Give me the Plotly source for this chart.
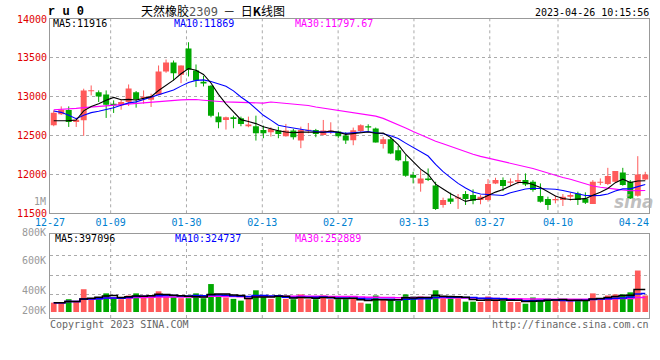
import numpy as np
import pandas as pd
import plotly.graph_objects as go
from plotly.subplots import make_subplots

# ---------------- data ----------------
tick_labels = ["12-27", "01-09", "01-30", "02-13", "02-27", "03-13", "03-27", "04-10", "04-24"]
tick_index = [0, 8, 18, 28, 38, 48, 58, 67, 77]

open_price = [12633, 12774, 12829, 12675, 12697, 13073, 13056, 13030, 12910, 12889,
              12932, 13056, 12987, 12962, 13026, 13325, 13440, 13282, 13620, 13338,
              13192, 13141, 12744, 12701, 12735, 12722, 12620, 12620, 12573, 12543,
              12564, 12491, 12564, 12436, 12564, 12573, 12509, 12551, 12551, 12500,
              12440, 12560, 12620, 12590, 12393, 12453, 12312, 12171, 11992, 11885,
              11949, 11859, 11607, 11692, 11692, 11748, 11735, 11671, 11671, 11885,
              11927, 11897, 11906, 11927, 11906, 11722, 11684, 11667, 11671, 11714,
              11756, 11692, 11620, 11893, 11876, 11906, 12026, 11906, 11727, 11936]
high_price = [12825, 12876, 12876, 12731, 13103, 13145, 13081, 13081, 12953, 12962,
              13158, 13073, 13081, 13039, 13402, 13479, 13466, 13402, 13701, 13415,
              13269, 13150, 12799, 12744, 12756, 12744, 12744, 12756, 12628, 12607,
              12615, 12650, 12586, 12615, 12662, 12586, 12701, 12671, 12564, 12543,
              12603, 12645, 12645, 12603, 12483, 12483, 12368, 12248, 12034, 12056,
              12077, 11906, 11701, 11765, 11748, 11786, 11808, 11735, 11940, 11957,
              11962, 11949, 12013, 12013, 11927, 11885, 11714, 11727, 11748, 11765,
              11778, 11769, 11927, 11949, 12085, 12043, 12085, 11927, 12235, 12034]
low_price = [12620, 12765, 12611, 12611, 12496, 13017, 12932, 12727, 12791, 12833,
             12880, 12859, 12910, 12868, 13026, 13308, 13209, 13175, 13261, 13124,
             13132, 12735, 12594, 12577, 12594, 12620, 12607, 12436, 12466, 12487,
             12466, 12487, 12449, 12338, 12530, 12479, 12500, 12521, 12470, 12393,
             12376, 12547, 12560, 12410, 12333, 12261, 12171, 11970, 11885, 11778,
             11915, 11543, 11573, 11620, 11556, 11607, 11616, 11616, 11650, 11876,
             11786, 11850, 11872, 11850, 11778, 11637, 11543, 11628, 11594, 11662,
             11607, 11620, 11620, 11863, 11863, 11897, 11855, 11684, 11714, 11927]
close_price = [12795, 12833, 12675, 12705, 13081, 13081, 13004, 12898, 12889, 12932,
               13107, 12966, 12996, 13004, 13325, 13440, 13303, 13402, 13346, 13209,
               13171, 12756, 12671, 12735, 12714, 12650, 12641, 12530, 12530, 12586,
               12521, 12564, 12479, 12573, 12573, 12521, 12564, 12564, 12491, 12436,
               12568, 12632, 12603, 12410, 12453, 12269, 12184, 11983, 11957, 11949,
               11927, 11556, 11671, 11650, 11705, 11684, 11662, 11714, 11876, 11927,
               11850, 11906, 11927, 11872, 11799, 11650, 11607, 11684, 11714, 11735,
               11671, 11637, 11906, 11906, 11979, 12043, 11863, 11692, 12000, 12000]
volume = [164000, 164000, 225000, 194000, 401000, 225000, 255000, 328000, 243000, 225000,
          291000, 328000, 291000, 291000, 364000, 267000, 267000, 243000, 243000, 328000,
          243000, 492000, 267000, 255000, 231000, 200000, 243000, 382000, 267000, 231000,
          273000, 231000, 225000, 310000, 225000, 225000, 291000, 225000, 225000, 225000,
          243000, 164000, 146000, 291000, 225000, 225000, 194000, 310000, 273000, 273000,
          225000, 382000, 243000, 243000, 243000, 182000, 182000, 176000, 273000, 225000,
          194000, 176000, 176000, 146000, 255000, 219000, 237000, 194000, 194000, 194000,
          219000, 219000, 328000, 219000, 291000, 310000, 310000, 346000, 730000, 291000]

# moving-average values before a full window exists
ma5_head = [12690, 12690, 12692, 12700]
ma10_head = [12816, 12799, 12761, 12718, 12761, 12795, 12812, 12833, 12859]
ma30_head = [12833, 12836, 12840, 12850, 12860, 12868, 12876, 12883, 12893, 12900,
             12907, 12912, 12918, 12925, 12938, 12950, 12955, 12960, 12962, 12964,
             12955, 12945, 12936, 12932, 12930, 12925, 12922, 12920, 12918]

price_ticks = [11500, 12000, 12500, 13000, 13500, 14000]
vol_labels = ["800K", "600K", "400K", "200K"]
ma_price_text = ["MA5:11916", "MA10:11869", "MA30:11797.67"]
ma_vol_text = ["MA5:397096", "MA10:324737", "MA30:252889"]
title_name = "天然橡胶"
title_code = "2309"
symbol = "r u 0"
timestamp = "2023-04-26 10:15:56"

# ---------------- derived ----------------
o = np.array(open_price, float)
h = np.array(high_price, float)
l = np.array(low_price, float)
c = np.array(close_price, float)
v = np.array(volume, float)
n = len(c)
x = np.arange(n)
up = c >= o

cs = pd.Series(c)
ma5 = cs.rolling(5).mean().to_numpy()
ma10 = cs.rolling(10).mean().to_numpy()
ma30 = cs.rolling(30).mean().to_numpy()
ma5[:len(ma5_head)] = ma5_head
ma10[:len(ma10_head)] = ma10_head
ma30[:len(ma30_head)] = ma30_head

vs = pd.Series(v)
vma5 = vs.rolling(5, min_periods=1).mean()
vma10 = vs.rolling(10, min_periods=1).mean()
vma30 = vs.rolling(30, min_periods=1).mean()

RED = "#ff5a5a"
GREEN = "#00a800"
MONO = "DejaVu Sans Mono"
CJK = "Noto Sans CJK SC"

fig = make_subplots(rows=2, cols=1)

def wicks(mask, color):
    xs, ys = [], []
    for i in np.where(mask)[0]:
        xs += [int(i), int(i), None]
        ys += [l[i], h[i], None]
    return go.Scatter(x=xs, y=ys, mode="lines", line=dict(color=color, width=1),
                      hoverinfo="skip", showlegend=False)

min_body = 14.0
body_h = np.maximum(np.abs(c - o), min_body)
body_base = np.where(np.abs(c - o) < min_body, (o + c) / 2 - min_body / 2, np.minimum(o, c))

for mask, col in ((up, RED), (~up, GREEN)):
    fig.add_trace(wicks(mask, col), row=1, col=1)
for mask, col in ((up, RED), (~up, GREEN)):
    fig.add_trace(go.Bar(x=x[mask], y=body_h[mask], base=body_base[mask], width=0.8,
                         marker=dict(color=col, line=dict(width=0)), showlegend=False),
                  row=1, col=1)

for series, col in ((ma30, "#ff00ff"), (ma10, "#0000ff"), (ma5, "#000000")):
    fig.add_trace(go.Scatter(x=x, y=series, mode="lines", line=dict(color=col, width=1.1),
                             showlegend=False, hoverinfo="skip"), row=1, col=1)

fig.add_trace(go.Bar(x=x, y=v, base=0, width=0.76,
                     marker=dict(color=np.where(up, RED, GREEN), line=dict(width=0)),
                     showlegend=False), row=2, col=1)
for series, col in ((vma30, "#ff00ff"), (vma10, "#0000ff"), (vma5, "#000000")):
    fig.add_trace(go.Scatter(x=x, y=series, mode="lines", line=dict(color=col, width=1.5, shape="hvh"),
                             showlegend=False, hoverinfo="skip"), row=2, col=1)

# ---------------- layout ----------------
W, H = 660, 360
ML, MR, MT, MB = 50, 11, 19, 42
PW, PH = W - ML - MR, H - MT - MB

def px(xp):
    return (xp - ML) / PW

def py(yp):
    return (H - MB - yp) / PH

tickpos = [t * n / (n - 1) - 0.5 for t in tick_index]
xrange_ = [-0.5, n - 0.5]

axis_line = dict(showline=True, mirror=True, linecolor="#999999", linewidth=1)
fig.update_layout(
    width=W, height=H, margin=dict(l=ML, r=MR, t=MT, b=MB, autoexpand=False),
    paper_bgcolor="white", plot_bgcolor="white", barmode="overlay",
    showlegend=False, hovermode=False,
    xaxis=dict(range=xrange_, tickvals=tickpos, ticktext=tick_labels, showticklabels=True,
               showgrid=False, zeroline=False, ticks="",
               tickfont=dict(family=MONO, size=10, color="#0080d0"), **axis_line),
    xaxis2=dict(range=xrange_, showticklabels=False, showgrid=False, zeroline=False, ticks="",
                **axis_line),
    yaxis=dict(domain=[py(213.3), 1.0], range=[price_ticks[0], price_ticks[-1]],
               tickvals=price_ticks, ticktext=[str(t) for t in price_ticks],
               showgrid=True, gridcolor="#aaaaaa", griddash="dot", gridwidth=1,
               zeroline=False, ticks="", tickfont=dict(family=MONO, size=10, color="#e00000"),
               **axis_line),
    yaxis2=dict(domain=[0.0, py(234.3)], range=[-105600, 1367520],
                tickvals=[300000, 650000, 1000000], showticklabels=False,
                showgrid=True, gridcolor="#aaaaaa", griddash="dot", gridwidth=1,
                zeroline=False, ticks="", **axis_line),
)

shapes = []
for tp in tickpos[1:-1]:
    for xr, yr in (("x", "y domain"), ("x2", "y2 domain")):
        shapes.append(dict(type="line", xref=xr, yref=yr, x0=tp, x1=tp, y0=0, y1=1,
                           line=dict(color="#aaaaaa", width=1, dash="dot"), layer="below"))
fig.update_layout(shapes=shapes)

ann = []
def text(s, xpix, ypix, anchor="left", color="#000", size=10, family=MONO, **kw):
    ann.append(dict(text=s, x=px(xpix), y=py(ypix), xref="paper", yref="paper",
                    xanchor=anchor, yanchor="middle", showarrow=False, borderpad=0,
                    font=dict(family=family, size=size, color=color), **kw))

text(f"<b>{symbol}</b>", 47, 12, size=12, family="Liberation Mono")
text(f"{title_name}<span style='font-family:{MONO};color:#555'>{title_code}</span>  －  日<b>K</b>线图",
     213, 10, anchor="center", size=12, family=CJK)
text(timestamp, 650, 12, anchor="right")
ma_cols = ["#000000", "#0000ff", "#ff00ff"]
for s, xp_, col in zip(ma_price_text, (52, 173, 294), ma_cols):
    text(s, xp_, 24, color=col)
for s, xp_, col in zip(ma_vol_text, (54, 174, 294), ma_cols):
    text(s, xp_, 238.5, color=col)
text("1M", 47, 201, anchor="right", color="#999999")
for s, yp_ in zip(vol_labels, (232.0, 260.7, 290.7, 310.0)):
    text(s, 47, yp_, anchor="right", color="#999999")
text("Copyright 2023 SINA.COM", 49, 324, color="#666666")
text("http://finance.sina.com.cn", 650, 324, anchor="right", color="#666666")
text("<b><i>sina</i></b>", 634, 202, anchor="center", color="rgba(170,170,170,0.75)",
     size=17, family="DejaVu Sans")
fig.update_layout(annotations=ann)

fig.write_html("out.html", config={"displayModeBar": False, "staticPlot": True},
               post_script="document.body.style.margin='0px';document.body.style.padding='0px';")
